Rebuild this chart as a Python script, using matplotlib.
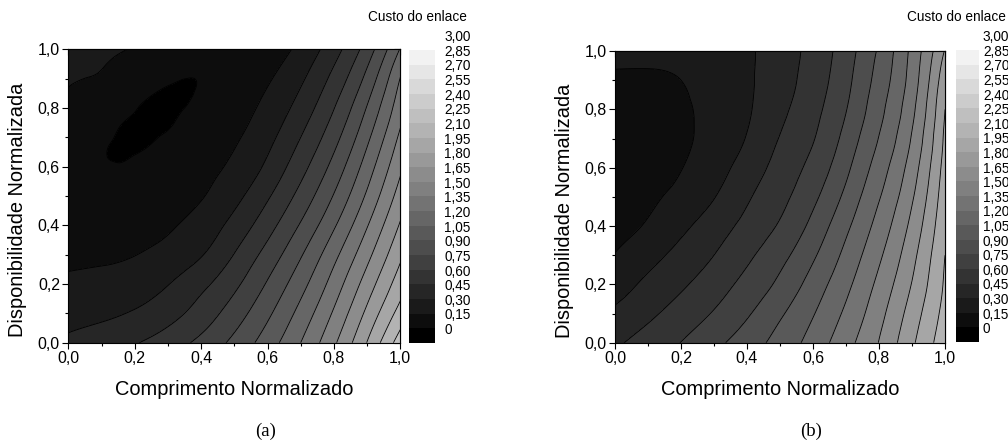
import numpy as np
import matplotlib
matplotlib.use("Agg")
import matplotlib.pyplot as plt
import matplotlib.tri as mtri
from matplotlib.ticker import MultipleLocator, FuncFormatter

plt.rcParams["font.family"] = ["Liberation Sans", "DejaVu Sans"]

# grade dos dados
comprimento = [0.0, 0.1, 0.2, 0.3, 0.4, 0.5, 0.6, 0.7, 0.8, 0.9, 1.0]
disponibilidade = [0.0, 0.1, 0.2, 0.3, 0.4, 0.5, 0.6, 0.7, 0.8, 0.9, 1.0]

# custo do enlace (a) - linhas: disponibilidade, colunas: comprimento
custo_a = [
    [0.48, 0.53, 0.59, 0.675, 0.79, 0.94, 1.125, 1.35, 1.625, 1.955, 2.33],
    [0.395, 0.42, 0.465, 0.545, 0.665, 0.825, 1.02, 1.25, 1.52, 1.835, 2.16],
    [0.325, 0.34, 0.37, 0.445, 0.56, 0.715, 0.915, 1.145, 1.415, 1.72, 2.03],
    [0.27, 0.277, 0.297, 0.35, 0.44, 0.605, 0.805, 1.035, 1.305, 1.605, 1.92],
    [0.232, 0.228, 0.236, 0.28, 0.36, 0.50, 0.69, 0.915, 1.18, 1.49, 1.815],
    [0.21, 0.19, 0.195, 0.23, 0.29, 0.405, 0.58, 0.80, 1.06, 1.375, 1.715],
    [0.203, 0.162, 0.172, 0.205, 0.25, 0.33, 0.48, 0.695, 0.95, 1.27, 1.62],
    [0.215, 0.172, 0.125, 0.165, 0.21, 0.28, 0.405, 0.60, 0.845, 1.165, 1.53],
    [0.26, 0.21, 0.156, 0.126, 0.184, 0.245, 0.34, 0.51, 0.745, 1.06, 1.44],
    [0.32, 0.28, 0.216, 0.166, 0.155, 0.215, 0.285, 0.425, 0.645, 0.945, 1.355],
    [0.41, 0.35, 0.285, 0.228, 0.192, 0.19, 0.23, 0.34, 0.54, 0.82, 1.21],
]

# leituras extras (a): centros das células em torno do mínimo (elipse escura)
extra_a_x = [0.05, 0.15, 0.25, 0.35, 0.45,
             0.05, 0.15, 0.25, 0.35, 0.45,
             0.05, 0.15, 0.25, 0.35, 0.45,
             0.05, 0.15, 0.25, 0.35, 0.45,
             0.05, 0.15, 0.25, 0.35, 0.45]
extra_a_y = [0.55, 0.55, 0.55, 0.55, 0.55,
             0.65, 0.65, 0.65, 0.65, 0.65,
             0.75, 0.75, 0.75, 0.75, 0.75,
             0.85, 0.85, 0.85, 0.85, 0.85,
             0.95, 0.95, 0.95, 0.95, 0.95]
extra_a_v = [0.178, 0.175, 0.20, 0.24, 0.31,
             0.172, 0.138, 0.166, 0.205, 0.262,
             0.205, 0.16, 0.122, 0.172, 0.225,
             0.26, 0.205, 0.156, 0.138, 0.20,
             0.335, 0.275, 0.215, 0.178, 0.18]

# custo do enlace (b)
custo_b = [
    [0.575, 0.663, 0.753, 0.86, 0.976, 1.107, 1.259, 1.446, 1.655, 1.923, 2.19],
    [0.48, 0.569, 0.663, 0.762, 0.882, 1.028, 1.19, 1.378, 1.60, 1.868, 2.15],
    [0.38, 0.483, 0.577, 0.68, 0.796, 0.934, 1.113, 1.311, 1.539, 1.807, 2.12],
    [0.305, 0.397, 0.497, 0.60, 0.72, 0.852, 1.027, 1.241, 1.473, 1.753, 2.10],
    [0.255, 0.315, 0.415, 0.526, 0.644, 0.767, 0.943, 1.167, 1.406, 1.693, 2.07],
    [0.23, 0.274, 0.341, 0.444, 0.58, 0.707, 0.865, 1.088, 1.338, 1.631, 2.04],
    [0.215, 0.235, 0.295, 0.391, 0.514, 0.655, 0.798, 1.014, 1.272, 1.573, 2.01],
    [0.21, 0.225, 0.27, 0.355, 0.458, 0.607, 0.741, 0.95, 1.206, 1.514, 1.98],
    [0.22, 0.232, 0.275, 0.347, 0.433, 0.561, 0.704, 0.894, 1.153, 1.462, 1.95],
    [0.27, 0.27, 0.30, 0.367, 0.431, 0.534, 0.67, 0.857, 1.109, 1.418, 1.90],
    [0.36, 0.36, 0.37, 0.39, 0.43, 0.528, 0.648, 0.831, 1.071, 1.391, 1.81],
]

niveis = [round(0.15 * i, 2) for i in range(21)]
cinzas = [str(round(i / 20, 3)) for i in range(20)]
rotulos_barra = ["0"] + [f"{v:.2f}".replace(".", ",") for v in niveis[1:]]

virgula = FuncFormatter(lambda v, p: f"{v:.1f}".replace(".", ","))

W, H = 1008, 448
fig = plt.figure(figsize=(W / 100, H / 100), dpi=100)


def px(x0, y0, x1, y1):
    # retângulo em pixels (topo-esquerda) -> coordenadas da figura
    return [x0 / W, 1 - y1 / H, (x1 - x0) / W, (y1 - y0) / H]


def painel(ax_box, cb_box, custo, extra, rotulo_x, titulo_x, titulo_ha, letra_x, letra):
    ax = fig.add_axes(px(*ax_box))
    cax = fig.add_axes(px(*cb_box))

    X, Y = np.meshgrid(comprimento, disponibilidade)
    xs = np.concatenate([X.ravel(), extra[0]])
    ys = np.concatenate([Y.ravel(), extra[1]])
    zs = np.concatenate([np.array(custo).ravel(), extra[2]])
    tri = mtri.Triangulation(xs, ys)
    refiner = mtri.UniformTriRefiner(tri)
    tri_f, z_f = refiner.refine_field(zs, subdiv=4)

    cf = ax.tricontourf(tri_f, z_f, levels=niveis, colors=cinzas)
    ax.tricontour(tri_f, z_f, levels=niveis, colors="black", linewidths=0.6)

    ax.set_xlim(0, 1)
    ax.set_ylim(0, 1)
    for eixo in (ax.xaxis, ax.yaxis):
        eixo.set_major_locator(MultipleLocator(0.2))
        eixo.set_minor_locator(MultipleLocator(0.1))
        eixo.set_major_formatter(virgula)
    ax.tick_params(which="both", direction="out", width=0.8, labelsize=11.5, pad=2)
    ax.tick_params(which="major", length=4)
    ax.tick_params(which="minor", length=2.5)
    for s in ax.spines.values():
        s.set_linewidth(0.8)

    topo = ax.secondary_xaxis("top")
    direita = ax.secondary_yaxis("right")
    for sec, eixo in ((topo, topo.xaxis), (direita, direita.yaxis)):
        eixo.set_major_locator(MultipleLocator(0.2))
        eixo.set_minor_locator(MultipleLocator(0.1))
        sec.tick_params(which="both", direction="in", width=0.8,
                        labeltop=False, labelright=False)
        sec.tick_params(which="major", length=4)
        sec.tick_params(which="minor", length=2.5)

    ax.set_xlabel("Comprimento Normalizado", fontsize=14.4)
    ax.set_ylabel("Disponibilidade Normalizada", fontsize=14.4)
    ax.xaxis.set_label_coords(0.5, -0.127)
    ax.yaxis.set_label_coords(-0.125, 0.452)

    cb = fig.colorbar(cf, cax=cax)
    cb.outline.set_visible(False)
    cax.set_yticks([])
    for v, txt in zip(niveis, rotulos_barra):
        cax.text(rotulo_x, v / 3.0 + 0.044, txt, transform=cax.transAxes,
                 ha="left", va="center", fontsize=9.8, clip_on=False)

    fig.text(titulo_x / W, 1 - 17 / H, "Custo do enlace", ha=titulo_ha,
             va="center", fontsize=9.8)
    fig.text(letra_x / W, 1 - 431 / H, letra, ha="center", va="center",
             fontsize=13.5, family=["Liberation Serif", "DejaVu Serif"])


painel((68.3, 49.3, 400.3, 342.7), (409, 50, 435, 343), custo_a,
       (extra_a_x, extra_a_y, extra_a_v), 1.35, 417, "center", 266, "(a)")
painel((615, 51, 945, 342.7), (956, 50, 979, 342), custo_b,
       ([], [], []), 1.17, 1006, "right", 811, "(b)")

fig.savefig("out.png", dpi=100, facecolor="white")
